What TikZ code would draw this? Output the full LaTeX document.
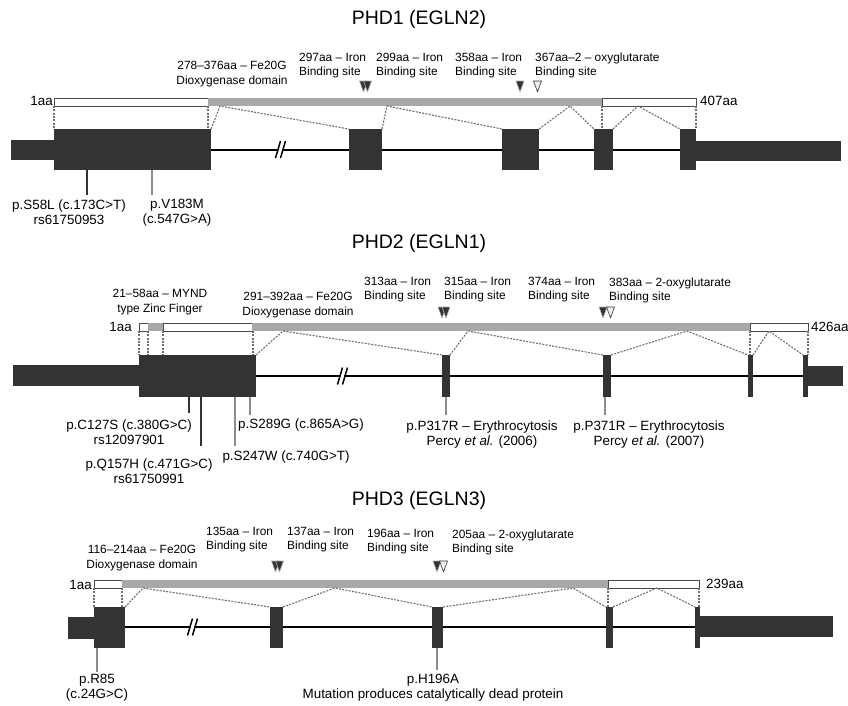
\documentclass[tikz,border=0pt]{standalone}
\usepackage{fontspec}
\setmainfont{Liberation Sans}
\usetikzlibrary{positioning}
\definecolor{exon}{HTML}{333333}
\definecolor{dominio}{HTML}{A8A8A8}
\definecolor{guion}{HTML}{6E6E6E}
\definecolor{marca}{HTML}{8C8C8C}
\definecolor{borde}{HTML}{4A4A4A}
\definecolor{claro}{HTML}{EDEDED}

\tikzset{
  etiq/.style={font=\fontsize{11.9}{14}\selectfont,inner sep=0pt,align=left,anchor=west},
  etiqc/.style={font=\fontsize{11.9}{15}\selectfont,inner sep=0pt,align=center},
  mut/.style={font=\fontsize{13.4}{15}\selectfont,inner sep=0pt,align=center},
  aa/.style={font=\fontsize{13.4}{15}\selectfont,inner sep=0pt},
  titulo/.style={font=\fontsize{19.5}{22}\selectfont,inner sep=0pt},
  empalme/.style={guion,line width=1.1pt,dash pattern=on 2pt off 1.3pt},
  sitio/.style={line width=0.6pt,line join=round},
  blanco/.style={fill=white,draw=borde,line width=0.7pt},
}

\begin{document}
\begin{tikzpicture}[x=1pt,y=-1pt]
  \useasboundingbox (0,0) rectangle (848,705);

  % ---------------- PHD1 ----------------
  \node[titulo] (t1) at (419,19) {PHD1 (EGLN2)};
  \node[etiqc] (d1) at (232,74.5) {278–376aa – Fe20G\\Dioxygenase domain};
  \node[etiq] (s297) at (299,65.5) {297aa – Iron\\Binding site};
  \node[etiq] (s299) at (376,65.5) {299aa – Iron\\Binding site};
  \node[etiq] (s358) at (455,65.5) {358aa – Iron\\Binding site};
  \node[etiq] (s367) at (535,65.5) {367aa–2 – oxyglutarate\\Binding site};
  \foreach \x/\c/\d in {363.5/exon/gray!60,367.5/exon/gray!60,520/exon/gray!60,537.5/claro/exon}
    \filldraw[sitio,fill=\c,draw=\d] (\x-4,81) -- (\x+4,81) -- (\x,92) -- cycle;
  % proteina
  \filldraw[blanco] (54,98) rectangle (208,106);
  \fill[dominio] (208,98) rectangle (602,106);
  \filldraw[blanco] (602,98) rectangle (696,106);
  \node[aa,anchor=east] (n1a) at (53,101) {1aa};
  \node[aa,anchor=west] (n1b) at (700,101) {407aa};
  % gen
  \draw[black,line width=2pt] (211,149.5) -- (680,149.5);
  \fill[exon] (11,140) rectangle (54,160);
  \foreach \a/\b in {54/211,349/382,502/539,594/613,680/696}
    \fill[exon] (\a,129) rectangle (\b,170);
  \fill[exon] (696,141) rectangle (841,161);
  \draw[white,line width=3pt] (278,157) -- (283,142);
  \draw[black,line width=1.5pt] (275.5,158) -- (280.5,141) (280.5,158) -- (285.5,141);
  \foreach \x in {54,208,602,696}
    \draw[empalme] (\x,106) -- (\x,129);
  \foreach \a/\p/\b in {211/220/349,382/387/502,539/570/594,613/638/680}
    \draw[empalme] (\a,129) -- (\p,106) -- (\b,129);
  % mutaciones
  \draw[exon,line width=2pt] (87,170) -- (87,195);
  \draw[marca,line width=2pt] (152,170) -- (152,195);
  \node[mut] (m58) at (69,212) {p.S58L (c.173C>T)\\rs61750953};
  \node[mut] (m183) at (177,213) {p.V183M\\(c.547G>A)};

  % ---------------- PHD2 ----------------
  \node[titulo] (t2) at (419,243) {PHD2 (EGLN1)};
  \node[etiqc] (z2) at (160,302.5) {21–58aa – MYND\\type Zinc Finger};
  \node[etiqc] (d2) at (298,305.5) {291–392aa – Fe20G\\Dioxygenase domain};
  \node[etiq] (s313) at (364,290) {313aa – Iron\\Binding site};
  \node[etiq] (s315) at (444,290) {315aa – Iron\\Binding site};
  \node[etiq] (s374) at (528,290) {374aa – Iron\\Binding site};
  \node[etiq] (s383) at (609,290) {383aa – 2-oxyglutarate\\Binding site};
  \foreach \x/\c/\d in {442/exon/gray!60,446/exon/gray!60,603/exon/gray!60,610.5/claro/exon}
    \filldraw[sitio,fill=\c,draw=\d] (\x-4,307) -- (\x+4,307) -- (\x,318) -- cycle;
  % proteina
  \filldraw[blanco] (139,323) rectangle (148,331);
  \fill[dominio] (148,323) rectangle (163,331);
  \filldraw[blanco] (163,323) rectangle (252,331);
  \fill[dominio] (252,323) rectangle (750,331);
  \filldraw[blanco] (750,323) rectangle (808,331);
  \node[aa,anchor=east] (n2a) at (132,327) {1aa};
  \node[aa,anchor=west] (n2b) at (811,327) {426aa};
  % gen
  \draw[black,line width=2pt] (256,376) -- (803,376);
  \fill[exon] (13,365) rectangle (139,386);
  \foreach \a/\b in {139/256,442/450,603/611,748/753,803/808}
    \fill[exon] (\a,355) rectangle (\b,397);
  \fill[exon] (808,366) rectangle (843,386);
  \draw[white,line width=3pt] (340,383.5) -- (345,368.5);
  \draw[black,line width=1.5pt] (337.5,384.5) -- (342.5,367.5) (342.5,384.5) -- (347.5,367.5);
  \foreach \x in {139,148,163,253,750,808}
    \draw[empalme] (\x,331) -- (\x,355);
  \foreach \a/\p/\b in {256/283/442,450/468/603,611/687/748,753/769/803}
    \draw[empalme] (\a,355) -- (\p,331) -- (\b,355);
  % mutaciones
  \draw[exon,line width=2pt] (189,397) -- (189,413);
  \draw[exon,line width=2pt] (201,397) -- (201,446);
  \draw[marca,line width=2pt] (235,397) -- (235,446);
  \draw[marca,line width=2pt] (250,397) -- (250,415);
  \draw[marca,line width=2pt] (446,397) -- (446,415);
  \draw[marca,line width=2pt] (605,397) -- (605,415);
  \node[mut] (m127) at (129,432.5) {p.C127S (c.380G>C)\\rs12097901};
  \node[mut] (m289) at (301,425) {p.S289G (c.865A>G)};
  \node[mut] (m157) at (149,471) {p.Q157H (c.471G>C)\\rs61750991};
  \node[mut] (m247) at (286,457) {p.S247W (c.740G>T)};
  \node[mut] (m317) at (482,434.5) {p.P317R – Erythrocytosis\\Percy \textit{et al.} (2006)};
  \node[mut] (m371) at (649,434.5) {p.P371R – Erythrocytosis\\Percy \textit{et al.} (2007)};

  % ---------------- PHD3 ----------------
  \node[titulo] (t3) at (419,500) {PHD3 (EGLN3)};
  \node[etiqc] (d3) at (142,558) {116–214aa – Fe20G\\Dioxygenase domain};
  \node[etiq] (s135) at (206,539.5) {135aa – Iron\\Binding site};
  \node[etiq] (s137) at (287,539.5) {137aa – Iron\\Binding site};
  \node[etiq] (s196) at (367,541.5) {196aa – Iron\\Binding site};
  \node[etiq] (s205) at (452,542) {205aa – 2-oxyglutarate\\Binding site};
  \foreach \x/\c/\d in {275.5/exon/gray!60,279.5/exon/gray!60,437/exon/gray!60,443.5/claro/exon}
    \filldraw[sitio,fill=\c,draw=\d] (\x-4,561) -- (\x+4,561) -- (\x,572) -- cycle;
  % proteina
  \filldraw[blanco] (94,580) rectangle (122,588);
  \fill[dominio] (122,580) rectangle (608,588);
  \filldraw[blanco] (608,580) rectangle (699,588);
  \node[aa,anchor=east] (n3a) at (92,585) {1aa};
  \node[aa,anchor=west] (n3b) at (706,584) {239aa};
  % gen
  \draw[black,line width=2pt] (125,627) -- (695,627);
  \fill[exon] (68,617) rectangle (94,639);
  \foreach \a/\b in {94/125,270/283,432/443,606/613,695/700}
    \fill[exon] (\a,607) rectangle (\b,648);
  \fill[exon] (700,616) rectangle (833,637);
  \draw[white,line width=3pt] (190,634.5) -- (195,619.5);
  \draw[black,line width=1.5pt] (187.5,635.5) -- (192.5,618.5) (192.5,635.5) -- (197.5,618.5);
  \foreach \x in {94,122,608,699}
    \draw[empalme] (\x,588) -- (\x,607);
  \foreach \a/\p/\b in {125/143/270,283/335/432,443/573/606,613/657/695}
    \draw[empalme] (\a,607) -- (\p,588) -- (\b,607);
  % mutaciones
  \draw[marca,line width=2pt] (97,648) -- (97,672);
  \draw[marca,line width=2pt] (437,648) -- (437,670);
  \node[mut] (m85) at (97,688) {p.R85\\(c.24G>C)};
  \node[mut] (m196) at (433,688) {p.H196A\\Mutation produces catalytically dead protein};
\end{tikzpicture}
\end{document}
